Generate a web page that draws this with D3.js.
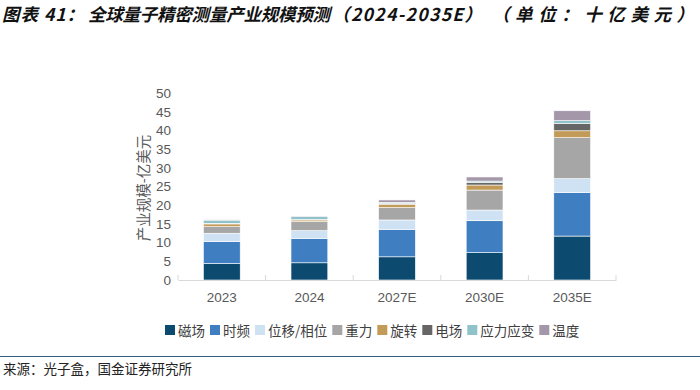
<!DOCTYPE html>
<html>
<head>
<meta charset="utf-8">
<script src="https://cdn.jsdelivr.net/npm/d3@7"></script>
<style>
  body { margin: 0; background: #fff; }
  svg { display: block; }
</style>
</head>
<body>
<div id="chart"></div>
<script>
// data
var years = ["2023", "2024", "2027E", "2030E", "2035E"];
var series = ["磁场", "时频", "位移/相位", "重力", "旋转", "电场", "应力应变", "温度"];
var cixiang   = [4.4, 4.6, 6.2, 7.3, 11.75];
var shipin    = [5.9, 6.55, 7.35, 8.55, 11.6];
var weiyi     = [2.2, 2.05, 2.5, 2.85, 3.75];
var zhongli   = [1.75, 2.4, 3.3, 5.35, 10.95];
var xuanzhuan = [0.75, 0.45, 0.9, 1.35, 1.85];
var dianchang = [0.15, 0.1, 0.2, 0.65, 2.0];
var yingli    = [0.85, 0.85, 0.3, 0.4, 0.7];
var wendu     = [0.1, 0.1, 0.65, 1.1, 2.65];
var yTicks = [0, 5, 10, 15, 20, 25, 30, 35, 40, 45, 50];

var colors = ["#0d4a70", "#3f7fc1", "#cfe2f3", "#a6a6a6", "#c39b58", "#666666", "#8fc3c9", "#a597aa"];

function chart() {
	var W = 700, H = 390;
	var svg = d3.select("#chart").append("svg")
		.attr("width", W).attr("height", H);

	// title, in pieces so it spans like the original
	var title = svg.append("text")
		.attr("y", 21)
		.attr("font-family", "'Noto Sans CJK SC', sans-serif")
		.attr("font-size", 17.5)
		.attr("font-weight", "bold")
		.attr("font-style", "italic")
		.attr("fill", "#111");
	var parts = [
		{t: "图表 41：", x: 2, w: 82},
		{t: "全球量子精密测量产业规模预测", x: 88, w: 242},
		{t: "（2024-2035E）", x: 332, w: 150},
		{t: "（单位：十亿美元）", x: 492, w: 202}
	];
	parts.forEach(function(p) {
		title.append("tspan").attr("x", p.x)
			.attr("textLength", p.w).attr("lengthAdjust", "spacing")
			.text(p.t);
	});

	var margin = {top: 93, left: 178, right: 84, bottom: 110};
	var width = W - margin.left - margin.right, height = H - margin.top - margin.bottom;
	var g = svg.append("g").attr("transform", "translate(" + margin.left + "," + margin.top + ")");

	// table for stacking
	var cols = [cixiang, shipin, weiyi, zhongli, xuanzhuan, dianchang, yingli, wendu];
	var table = years.map(function(y, i) {
		var row = {year: y};
		series.forEach(function(s, j) { row[s] = cols[j][i]; });
		return row;
	});
	var stacked = d3.stack().keys(series)(table);

	var x = d3.scaleBand().domain(years).range([0, width]).paddingInner(0.58).paddingOuter(0.29);
	var y = d3.scaleLinear().domain([0, 50]).range([height, 0]);
	var color = d3.scaleOrdinal().domain(series).range(colors);

	// y axis (labels only)
	var ya = g.append("g")
		.attr("transform", "translate(-3,0)")
		.call(d3.axisLeft(y).tickValues(yTicks).tickSize(0).tickPadding(4));
	ya.select(".domain").remove();
	ya.selectAll("text")
		.attr("font-family", "'Liberation Sans', Arial, sans-serif")
		.attr("font-size", 13.5).attr("fill", "#595959");

	// bars
	g.append("g").selectAll("g")
		.data(stacked).enter().append("g")
		.attr("fill", function(d) { return color(d.key); })
		.selectAll("rect")
		.data(function(d) { return d; })
		.enter().append("rect")
		.attr("x", function(d) { return x(d.data.year); })
		.attr("y", function(d) { return y(d[1]); })
		.attr("width", x.bandwidth())
		.attr("height", function(d) { return y(d[0]) - y(d[1]); })
		.attr("stroke", "#fff").attr("stroke-width", 0.6);

	// x axis
	var xa = g.append("g")
		.attr("transform", "translate(0," + height + ")")
		.call(d3.axisBottom(x).tickSize(0).tickPadding(12));
	xa.select(".domain").attr("stroke", "#d9d9d9");
	xa.selectAll("text")
		.attr("font-family", "'Liberation Sans', Arial, sans-serif")
		.attr("font-size", 13.5).attr("fill", "#595959");
	// category separators
	var edges = d3.range(years.length + 1).map(function(i) { return i * x.step(); });
	xa.selectAll(".sep").data(edges).enter().append("line")
		.attr("x1", function(d) { return d; }).attr("x2", function(d) { return d; })
		.attr("y1", 0).attr("y2", -5)
		.attr("stroke", "#d9d9d9");

	// y axis title
	svg.append("text")
		.attr("transform", "translate(142,188) rotate(-90)")
		.attr("text-anchor", "middle")
		.attr("dominant-baseline", "central")
		.attr("font-family", "'Noto Sans CJK SC', sans-serif")
		.attr("font-size", 14.5).attr("fill", "#595959")
		.text("产业规模-亿美元");

	// legend
	var legend = svg.append("g").attr("transform", "translate(165,330)");
	var lx = 0;
	series.forEach(function(s, i) {
		var item = legend.append("g").attr("transform", "translate(" + lx + ",0)");
		item.append("rect")
			.attr("x", 0).attr("y", -5).attr("width", 10).attr("height", 10)
			.attr("fill", colors[i]);
		var t = item.append("text")
			.attr("x", 13).attr("y", 0)
			.attr("dominant-baseline", "central")
			.attr("font-family", "'Noto Sans CJK SC', sans-serif")
			.attr("font-size", 13.5).attr("fill", "#404040")
			.text(s);
		lx += 13 + t.node().getComputedTextLength() + 5;
	});

	// bottom rule and source
	svg.append("line")
		.attr("x1", 0).attr("x2", W).attr("y1", 356.5).attr("y2", 356.5)
		.attr("stroke", "#2d5f7c").attr("stroke-width", 1.2);
	svg.append("text")
		.attr("x", 3).attr("y", 374)
		.attr("font-family", "'Noto Sans CJK SC', sans-serif")
		.attr("font-size", 13.5).attr("fill", "#222")
		.text("来源：光子盒，国金证券研究所");
}

chart();
</script>
</body>
</html>
